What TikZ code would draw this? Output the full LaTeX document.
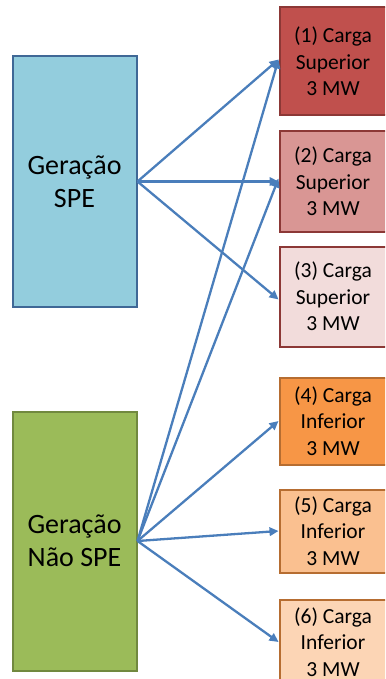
\documentclass[tikz,border=0pt]{standalone}
\usepackage{fontspec}
\setmainfont{Carlito}
\usetikzlibrary{arrows.meta,positioning}
\definecolor{spefill}{HTML}{93CDDD}
\definecolor{speline}{HTML}{3F6896}
\definecolor{naofill}{HTML}{9BBB59}
\definecolor{naoline}{HTML}{71893F}
\definecolor{supline}{HTML}{8C3836}
\definecolor{infline}{HTML}{B66D31}
\definecolor{fluxoblue}{HTML}{4A7EBB}

\begin{document}
\begin{tikzpicture}[x=1pt,y=-1pt,
    geracao/.style={draw,line width=2pt,align=center,minimum width=124pt,minimum height=250pt,font=\fontsize{28}{33}\selectfont},
    carga/.style={draw,line width=2pt,align=center,minimum width=107pt,font=\fontsize{21.5}{26.5}\selectfont},
    fluxo/.style={-{Triangle[length=9pt,width=8.5pt]},line width=2.3pt,fluxoblue}]
    \useasboundingbox (0,0) rectangle (385,679);
    \clip (0,0) rectangle (385,679);
    \node[geracao,fill=spefill,draw=speline] (spe) at (74.5,181.5) {Geração\\SPE};
    \node[geracao,fill=naofill,draw=naoline,minimum height=259pt] (naospe) at (74.5,541) {Geração\\Não SPE};
    \node[carga,fill={rgb,255:red,192;green,80;blue,77},draw=supline,minimum height=108pt] (carga1) at (333,61.5) {(1) Carga\\Superior\\3 MW};
    \node[carga,fill={rgb,255:red,217;green,150;blue,148},draw=supline,minimum height=100pt] (carga2) at (333,181.5) {(2) Carga\\Superior\\3 MW};
    \node[carga,fill={rgb,255:red,242;green,220;blue,219},draw=supline,minimum height=100pt] (carga3) at (333,296.5) {(3) Carga\\Superior\\3 MW};
    \node[carga,fill={rgb,255:red,247;green,150;blue,70},draw=infline,minimum height=87pt] (carga4) at (333,421) {(4) Carga\\Inferior\\3 MW};
    \node[carga,fill={rgb,255:red,250;green,192;blue,144},draw=infline,minimum height=83pt] (carga5) at (333,531) {(5) Carga\\Inferior\\3 MW};
    \node[carga,fill={rgb,255:red,252;green,213;blue,181},draw=infline,minimum height=84pt] (carga6) at (333,642) {(6) Carga\\Inferior\\3 MW};
    % SPE supplies the upper loads
    \draw[fluxo] (spe.east) -- ([yshift=2pt]carga1.west);
    \draw[fluxo] (spe.east) -- (carga2.west);
    \draw[fluxo] (spe.east) -- ([yshift=-3pt]carga3.west);
    % non SPE supplies everything but load 3
    \draw[fluxo] (naospe.east) -- ([yshift=2pt]carga1.west);
    \draw[fluxo] (naospe.east) -- ([yshift=3pt]carga2.west);
    \draw[fluxo] (naospe.east) -- (carga4.west);
    \draw[fluxo] (naospe.east) -- (carga5.west);
    \draw[fluxo] (naospe.east) -- (carga6.west);
\end{tikzpicture}
\end{document}
